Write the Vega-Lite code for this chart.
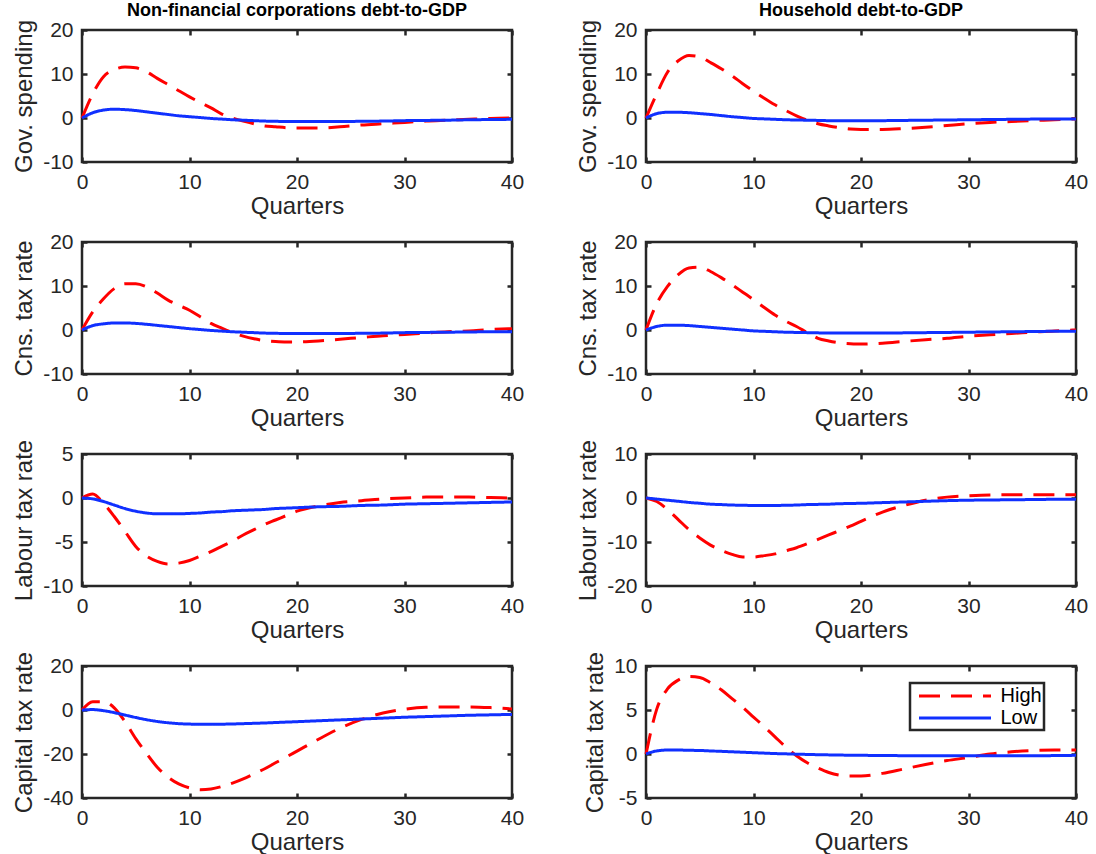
{
  "$schema": "https://vega.github.io/schema/vega-lite/v6.json",
  "background": "white",
  "padding": {"left": 11, "top": 0, "right": 10, "bottom": 0},
  "data": {"values": [
    {"p":"a","q":0,"High":0,"Low":0},{"p":"a","q":1,"High":5.5,"Low":1.2},{"p":"a","q":2,"High":9.4,"Low":1.8},{"p":"a","q":3,"High":11.0,"Low":2.0},{"p":"a","q":4,"High":11.6,"Low":1.9},{"p":"a","q":5,"High":11.4,"Low":1.7},{"p":"a","q":6,"High":10.5,"Low":1.4},{"p":"a","q":7,"High":9.0,"Low":1.1},{"p":"a","q":8,"High":7.6,"Low":0.8},{"p":"a","q":9,"High":6.2,"Low":0.5},{"p":"a","q":10,"High":4.8,"Low":0.3},{"p":"a","q":11,"High":3.5,"Low":0.1},{"p":"a","q":12,"High":2.3,"Low":-0.1},{"p":"a","q":13,"High":0.9,"Low":-0.25},{"p":"a","q":14,"High":0.0,"Low":-0.4},{"p":"a","q":15,"High":-0.7,"Low":-0.5},{"p":"a","q":16,"High":-1.3,"Low":-0.6},{"p":"a","q":17,"High":-1.8,"Low":-0.7},{"p":"a","q":18,"High":-2.0,"Low":-0.75},{"p":"a","q":19,"High":-2.2,"Low":-0.8},{"p":"a","q":20,"High":-2.3,"Low":-0.8},{"p":"a","q":22,"High":-2.3,"Low":-0.8},{"p":"a","q":24,"High":-2.0,"Low":-0.8},{"p":"a","q":26,"High":-1.6,"Low":-0.75},{"p":"a","q":28,"High":-1.3,"Low":-0.7},{"p":"a","q":30,"High":-1.0,"Low":-0.6},{"p":"a","q":32,"High":-0.7,"Low":-0.55},{"p":"a","q":34,"High":-0.5,"Low":-0.5},{"p":"a","q":36,"High":-0.3,"Low":-0.4},{"p":"a","q":38,"High":-0.1,"Low":-0.35},{"p":"a","q":40,"High":0.0,"Low":-0.3},
    {"p":"b","q":0,"High":0,"Low":0},{"p":"b","q":1,"High":5.5,"Low":1.0},{"p":"b","q":2,"High":10.4,"Low":1.3},{"p":"b","q":3,"High":13.0,"Low":1.3},{"p":"b","q":4,"High":14.2,"Low":1.2},{"p":"b","q":5,"High":13.9,"Low":1.0},{"p":"b","q":6,"High":12.6,"Low":0.8},{"p":"b","q":7,"High":11.2,"Low":0.55},{"p":"b","q":8,"High":9.6,"Low":0.3},{"p":"b","q":9,"High":7.8,"Low":0.1},{"p":"b","q":10,"High":6.1,"Low":-0.1},{"p":"b","q":11,"High":4.5,"Low":-0.2},{"p":"b","q":12,"High":3.0,"Low":-0.3},{"p":"b","q":13,"High":1.7,"Low":-0.4},{"p":"b","q":14,"High":0.5,"Low":-0.45},{"p":"b","q":15,"High":-0.5,"Low":-0.5},{"p":"b","q":16,"High":-1.3,"Low":-0.55},{"p":"b","q":17,"High":-1.8,"Low":-0.6},{"p":"b","q":18,"High":-2.2,"Low":-0.6},{"p":"b","q":19,"High":-2.5,"Low":-0.6},{"p":"b","q":20,"High":-2.6,"Low":-0.6},{"p":"b","q":22,"High":-2.6,"Low":-0.6},{"p":"b","q":24,"High":-2.4,"Low":-0.55},{"p":"b","q":26,"High":-2.1,"Low":-0.5},{"p":"b","q":28,"High":-1.7,"Low":-0.45},{"p":"b","q":30,"High":-1.3,"Low":-0.4},{"p":"b","q":32,"High":-1.0,"Low":-0.35},{"p":"b","q":34,"High":-0.8,"Low":-0.3},{"p":"b","q":36,"High":-0.6,"Low":-0.25},{"p":"b","q":38,"High":-0.4,"Low":-0.2},{"p":"b","q":40,"High":-0.2,"Low":-0.2},
    {"p":"c","q":0,"High":0,"Low":0},{"p":"c","q":1,"High":4.1,"Low":1.0},{"p":"c","q":2,"High":7.1,"Low":1.4},{"p":"c","q":3,"High":9.4,"Low":1.6},{"p":"c","q":4,"High":10.5,"Low":1.6},{"p":"c","q":5,"High":10.5,"Low":1.5},{"p":"c","q":6,"High":9.8,"Low":1.3},{"p":"c","q":7,"High":8.4,"Low":1.05},{"p":"c","q":8,"High":6.8,"Low":0.8},{"p":"c","q":9,"High":5.6,"Low":0.55},{"p":"c","q":10,"High":4.5,"Low":0.3},{"p":"c","q":11,"High":3.0,"Low":0.1},{"p":"c","q":12,"High":1.5,"Low":-0.1},{"p":"c","q":13,"High":0.4,"Low":-0.25},{"p":"c","q":14,"High":-0.6,"Low":-0.4},{"p":"c","q":15,"High":-1.4,"Low":-0.5},{"p":"c","q":16,"High":-2.0,"Low":-0.6},{"p":"c","q":17,"High":-2.4,"Low":-0.7},{"p":"c","q":18,"High":-2.6,"Low":-0.75},{"p":"c","q":19,"High":-2.7,"Low":-0.8},{"p":"c","q":20,"High":-2.7,"Low":-0.8},{"p":"c","q":22,"High":-2.5,"Low":-0.8},{"p":"c","q":24,"High":-2.1,"Low":-0.8},{"p":"c","q":26,"High":-1.7,"Low":-0.75},{"p":"c","q":28,"High":-1.3,"Low":-0.7},{"p":"c","q":30,"High":-1.0,"Low":-0.6},{"p":"c","q":32,"High":-0.7,"Low":-0.55},{"p":"c","q":34,"High":-0.4,"Low":-0.5},{"p":"c","q":36,"High":-0.2,"Low":-0.45},{"p":"c","q":38,"High":0.1,"Low":-0.4},{"p":"c","q":40,"High":0.3,"Low":-0.4},
    {"p":"d","q":0,"High":0,"Low":0},{"p":"d","q":1,"High":6.0,"Low":0.8},{"p":"d","q":2,"High":9.9,"Low":1.1},{"p":"d","q":3,"High":12.6,"Low":1.1},{"p":"d","q":4,"High":14.1,"Low":1.0},{"p":"d","q":5,"High":14.3,"Low":0.8},{"p":"d","q":6,"High":13.3,"Low":0.6},{"p":"d","q":7,"High":11.9,"Low":0.4},{"p":"d","q":8,"High":10.3,"Low":0.2},{"p":"d","q":9,"High":8.6,"Low":0.0},{"p":"d","q":10,"High":6.9,"Low":-0.2},{"p":"d","q":11,"High":5.1,"Low":-0.3},{"p":"d","q":12,"High":3.4,"Low":-0.4},{"p":"d","q":13,"High":2.0,"Low":-0.5},{"p":"d","q":14,"High":0.8,"Low":-0.55},{"p":"d","q":15,"High":-0.6,"Low":-0.6},{"p":"d","q":16,"High":-1.9,"Low":-0.65},{"p":"d","q":17,"High":-2.5,"Low":-0.7},{"p":"d","q":18,"High":-2.9,"Low":-0.7},{"p":"d","q":19,"High":-3.1,"Low":-0.7},{"p":"d","q":20,"High":-3.2,"Low":-0.7},{"p":"d","q":22,"High":-3.0,"Low":-0.7},{"p":"d","q":24,"High":-2.6,"Low":-0.65},{"p":"d","q":26,"High":-2.2,"Low":-0.6},{"p":"d","q":28,"High":-1.9,"Low":-0.55},{"p":"d","q":30,"High":-1.4,"Low":-0.5},{"p":"d","q":32,"High":-1.1,"Low":-0.45},{"p":"d","q":34,"High":-0.8,"Low":-0.4},{"p":"d","q":36,"High":-0.5,"Low":-0.35},{"p":"d","q":38,"High":-0.2,"Low":-0.3},{"p":"d","q":40,"High":0.0,"Low":-0.3},
    {"p":"e","q":0,"High":0,"Low":0},{"p":"e","q":1,"High":0.45,"Low":-0.1},{"p":"e","q":2,"High":-0.6,"Low":-0.4},{"p":"e","q":3,"High":-2.1,"Low":-0.8},{"p":"e","q":4,"High":-3.8,"Low":-1.2},{"p":"e","q":5,"High":-5.5,"Low":-1.5},{"p":"e","q":6,"High":-6.6,"Low":-1.7},{"p":"e","q":7,"High":-7.2,"Low":-1.8},{"p":"e","q":8,"High":-7.5,"Low":-1.8},{"p":"e","q":9,"High":-7.4,"Low":-1.8},{"p":"e","q":10,"High":-7.1,"Low":-1.75},{"p":"e","q":11,"High":-6.6,"Low":-1.7},{"p":"e","q":12,"High":-6.1,"Low":-1.6},{"p":"e","q":13,"High":-5.5,"Low":-1.55},{"p":"e","q":14,"High":-4.9,"Low":-1.45},{"p":"e","q":15,"High":-4.2,"Low":-1.4},{"p":"e","q":16,"High":-3.6,"Low":-1.35},{"p":"e","q":17,"High":-3.0,"Low":-1.3},{"p":"e","q":18,"High":-2.5,"Low":-1.2},{"p":"e","q":19,"High":-2.0,"Low":-1.15},{"p":"e","q":20,"High":-1.5,"Low":-1.1},{"p":"e","q":22,"High":-0.9,"Low":-1.0},{"p":"e","q":24,"High":-0.5,"Low":-0.95},{"p":"e","q":26,"High":-0.3,"Low":-0.85},{"p":"e","q":28,"High":-0.1,"Low":-0.8},{"p":"e","q":30,"High":0.0,"Low":-0.7},{"p":"e","q":32,"High":0.1,"Low":-0.65},{"p":"e","q":34,"High":0.1,"Low":-0.6},{"p":"e","q":36,"High":0.1,"Low":-0.55},{"p":"e","q":38,"High":0.05,"Low":-0.5},{"p":"e","q":40,"High":0.0,"Low":-0.45},
    {"p":"f","q":0,"High":0,"Low":0},{"p":"f","q":1,"High":-0.8,"Low":-0.25},{"p":"f","q":2,"High":-2.6,"Low":-0.5},{"p":"f","q":3,"High":-4.9,"Low":-0.75},{"p":"f","q":4,"High":-7.2,"Low":-1.0},{"p":"f","q":5,"High":-9.1,"Low":-1.2},{"p":"f","q":6,"High":-10.7,"Low":-1.4},{"p":"f","q":7,"High":-11.9,"Low":-1.5},{"p":"f","q":8,"High":-12.8,"Low":-1.6},{"p":"f","q":9,"High":-13.4,"Low":-1.65},{"p":"f","q":10,"High":-13.4,"Low":-1.7},{"p":"f","q":11,"High":-13.1,"Low":-1.7},{"p":"f","q":12,"High":-12.7,"Low":-1.7},{"p":"f","q":13,"High":-12.0,"Low":-1.65},{"p":"f","q":14,"High":-11.3,"Low":-1.6},{"p":"f","q":15,"High":-10.4,"Low":-1.5},{"p":"f","q":16,"High":-9.4,"Low":-1.45},{"p":"f","q":17,"High":-8.4,"Low":-1.4},{"p":"f","q":18,"High":-7.4,"Low":-1.3},{"p":"f","q":19,"High":-6.4,"Low":-1.25},{"p":"f","q":20,"High":-5.3,"Low":-1.2},{"p":"f","q":22,"High":-3.2,"Low":-1.05},{"p":"f","q":24,"High":-1.7,"Low":-0.9},{"p":"f","q":26,"High":-0.5,"Low":-0.75},{"p":"f","q":28,"High":0.2,"Low":-0.6},{"p":"f","q":30,"High":0.5,"Low":-0.5},{"p":"f","q":32,"High":0.7,"Low":-0.45},{"p":"f","q":34,"High":0.75,"Low":-0.4},{"p":"f","q":36,"High":0.75,"Low":-0.35},{"p":"f","q":38,"High":0.75,"Low":-0.3},{"p":"f","q":40,"High":0.75,"Low":-0.3},
    {"p":"g","q":0,"High":0,"Low":0},{"p":"g","q":1,"High":3.8,"Low":0.2},{"p":"g","q":2,"High":3.8,"Low":-0.3},{"p":"g","q":3,"High":1.0,"Low":-1.2},{"p":"g","q":4,"High":-5.3,"Low":-2.3},{"p":"g","q":5,"High":-13.0,"Low":-3.4},{"p":"g","q":6,"High":-19.8,"Low":-4.4},{"p":"g","q":7,"High":-26.0,"Low":-5.2},{"p":"g","q":8,"High":-30.5,"Low":-5.8},{"p":"g","q":9,"High":-33.6,"Low":-6.2},{"p":"g","q":10,"High":-35.4,"Low":-6.4},{"p":"g","q":11,"High":-36.2,"Low":-6.5},{"p":"g","q":12,"High":-35.9,"Low":-6.5},{"p":"g","q":13,"High":-34.8,"Low":-6.45},{"p":"g","q":14,"High":-33.2,"Low":-6.35},{"p":"g","q":15,"High":-31.3,"Low":-6.2},{"p":"g","q":16,"High":-29.0,"Low":-6.05},{"p":"g","q":17,"High":-26.7,"Low":-5.9},{"p":"g","q":18,"High":-24.0,"Low":-5.7},{"p":"g","q":19,"High":-21.4,"Low":-5.5},{"p":"g","q":20,"High":-18.7,"Low":-5.3},{"p":"g","q":22,"High":-13.3,"Low":-4.9},{"p":"g","q":24,"High":-8.3,"Low":-4.5},{"p":"g","q":26,"High":-4.3,"Low":-4.1},{"p":"g","q":28,"High":-1.4,"Low":-3.7},{"p":"g","q":30,"High":0.3,"Low":-3.3},{"p":"g","q":32,"High":1.2,"Low":-3.0},{"p":"g","q":34,"High":1.4,"Low":-2.7},{"p":"g","q":36,"High":1.4,"Low":-2.4},{"p":"g","q":38,"High":1.1,"Low":-2.2},{"p":"g","q":40,"High":0.5,"Low":-2.0},
    {"p":"h","q":0,"High":0,"Low":0},{"p":"h","q":1,"High":5.1,"Low":0.35},{"p":"h","q":2,"High":7.4,"Low":0.45},{"p":"h","q":3,"High":8.4,"Low":0.45},{"p":"h","q":4,"High":8.8,"Low":0.42},{"p":"h","q":5,"High":8.7,"Low":0.4},{"p":"h","q":6,"High":8.1,"Low":0.35},{"p":"h","q":7,"High":7.3,"Low":0.3},{"p":"h","q":8,"High":6.3,"Low":0.25},{"p":"h","q":9,"High":5.3,"Low":0.2},{"p":"h","q":10,"High":4.2,"Low":0.15},{"p":"h","q":11,"High":3.1,"Low":0.1},{"p":"h","q":12,"High":1.95,"Low":0.05},{"p":"h","q":13,"High":0.8,"Low":0.02},{"p":"h","q":14,"High":-0.2,"Low":-0.02},{"p":"h","q":15,"High":-1.0,"Low":-0.05},{"p":"h","q":16,"High":-1.6,"Low":-0.08},{"p":"h","q":17,"High":-2.1,"Low":-0.1},{"p":"h","q":18,"High":-2.4,"Low":-0.12},{"p":"h","q":19,"High":-2.5,"Low":-0.14},{"p":"h","q":20,"High":-2.5,"Low":-0.15},{"p":"h","q":22,"High":-2.2,"Low":-0.17},{"p":"h","q":24,"High":-1.7,"Low":-0.19},{"p":"h","q":26,"High":-1.2,"Low":-0.2},{"p":"h","q":28,"High":-0.75,"Low":-0.2},{"p":"h","q":30,"High":-0.4,"Low":-0.2},{"p":"h","q":32,"High":0.0,"Low":-0.2},{"p":"h","q":34,"High":0.25,"Low":-0.2},{"p":"h","q":36,"High":0.4,"Low":-0.2},{"p":"h","q":38,"High":0.45,"Low":-0.18},{"p":"h","q":40,"High":0.45,"Low":-0.15}
  ]},
  "transform": [{"fold": ["High", "Low"], "as": ["s", "v"]}],
  "columns": 2,
  "bounds": "flush",
  "spacing": {"row": 80, "column": 134},
  "resolve": {"scale": {"color": "independent", "strokeDash": "independent"}, "legend": {"color": "independent", "strokeDash": "independent"}},
  "concat": [
    {
      "title": {"text": "Non-financial corporations debt-to-GDP"},
      "width": 430, "height": 132,
      "transform": [{"filter": "datum.p === 'a'"}],
      "layer": [
        {"mark": {"type": "line", "strokeWidth": 3, "interpolate": "monotone"},
         "encoding": {
           "x": {"field": "q", "type": "quantitative", "scale": {"domain": [0, 40], "nice": false}, "axis": {"values": [0, 10, 20, 30, 40], "title": "Quarters"}},
           "y": {"field": "v", "type": "quantitative", "scale": {"domain": [-10, 20], "nice": false}, "axis": {"values": [-10, 0, 10, 20], "title": "Gov. spending"}},
           "color": {"field": "s", "type": "nominal", "scale": {"domain": ["High", "Low"], "range": ["#ff0000", "#1030ff"]}, "legend": null},
           "strokeDash": {"field": "s", "type": "nominal", "scale": {"domain": ["High", "Low"], "range": [[21, 11], [1, 0]]}, "legend": null}
         }},
        {"mark": {"type": "line", "opacity": 0},
         "encoding": {
           "x": {"field": "q", "type": "quantitative", "axis": {"orient": "top", "values": [0, 10, 20, 30, 40], "labels": false, "title": null}},
           "y": {"field": "v", "type": "quantitative", "axis": {"orient": "right", "values": [-10, 0, 10, 20], "labels": false, "title": null}},
           "detail": {"field": "s"}
         }}
      ],
      "resolve": {"axis": {"x": "independent", "y": "independent"}}
    },
    {
      "title": {"text": "Household debt-to-GDP"},
      "width": 430, "height": 132,
      "transform": [{"filter": "datum.p === 'b'"}],
      "layer": [
        {"mark": {"type": "line", "strokeWidth": 3, "interpolate": "monotone"},
         "encoding": {
           "x": {"field": "q", "type": "quantitative", "scale": {"domain": [0, 40], "nice": false}, "axis": {"values": [0, 10, 20, 30, 40], "title": "Quarters"}},
           "y": {"field": "v", "type": "quantitative", "scale": {"domain": [-10, 20], "nice": false}, "axis": {"values": [-10, 0, 10, 20], "title": "Gov. spending"}},
           "color": {"field": "s", "type": "nominal", "scale": {"domain": ["High", "Low"], "range": ["#ff0000", "#1030ff"]}, "legend": null},
           "strokeDash": {"field": "s", "type": "nominal", "scale": {"domain": ["High", "Low"], "range": [[21, 11], [1, 0]]}, "legend": null}
         }},
        {"mark": {"type": "line", "opacity": 0},
         "encoding": {
           "x": {"field": "q", "type": "quantitative", "axis": {"orient": "top", "values": [0, 10, 20, 30, 40], "labels": false, "title": null}},
           "y": {"field": "v", "type": "quantitative", "axis": {"orient": "right", "values": [-10, 0, 10, 20], "labels": false, "title": null}},
           "detail": {"field": "s"}
         }}
      ],
      "resolve": {"axis": {"x": "independent", "y": "independent"}}
    },
    {
      "width": 430, "height": 132,
      "transform": [{"filter": "datum.p === 'c'"}],
      "layer": [
        {"mark": {"type": "line", "strokeWidth": 3, "interpolate": "monotone"},
         "encoding": {
           "x": {"field": "q", "type": "quantitative", "scale": {"domain": [0, 40], "nice": false}, "axis": {"values": [0, 10, 20, 30, 40], "title": "Quarters"}},
           "y": {"field": "v", "type": "quantitative", "scale": {"domain": [-10, 20], "nice": false}, "axis": {"values": [-10, 0, 10, 20], "title": "Cns. tax rate"}},
           "color": {"field": "s", "type": "nominal", "scale": {"domain": ["High", "Low"], "range": ["#ff0000", "#1030ff"]}, "legend": null},
           "strokeDash": {"field": "s", "type": "nominal", "scale": {"domain": ["High", "Low"], "range": [[21, 11], [1, 0]]}, "legend": null}
         }},
        {"mark": {"type": "line", "opacity": 0},
         "encoding": {
           "x": {"field": "q", "type": "quantitative", "axis": {"orient": "top", "values": [0, 10, 20, 30, 40], "labels": false, "title": null}},
           "y": {"field": "v", "type": "quantitative", "axis": {"orient": "right", "values": [-10, 0, 10, 20], "labels": false, "title": null}},
           "detail": {"field": "s"}
         }}
      ],
      "resolve": {"axis": {"x": "independent", "y": "independent"}}
    },
    {
      "width": 430, "height": 132,
      "transform": [{"filter": "datum.p === 'd'"}],
      "layer": [
        {"mark": {"type": "line", "strokeWidth": 3, "interpolate": "monotone"},
         "encoding": {
           "x": {"field": "q", "type": "quantitative", "scale": {"domain": [0, 40], "nice": false}, "axis": {"values": [0, 10, 20, 30, 40], "title": "Quarters"}},
           "y": {"field": "v", "type": "quantitative", "scale": {"domain": [-10, 20], "nice": false}, "axis": {"values": [-10, 0, 10, 20], "title": "Cns. tax rate"}},
           "color": {"field": "s", "type": "nominal", "scale": {"domain": ["High", "Low"], "range": ["#ff0000", "#1030ff"]}, "legend": null},
           "strokeDash": {"field": "s", "type": "nominal", "scale": {"domain": ["High", "Low"], "range": [[21, 11], [1, 0]]}, "legend": null}
         }},
        {"mark": {"type": "line", "opacity": 0},
         "encoding": {
           "x": {"field": "q", "type": "quantitative", "axis": {"orient": "top", "values": [0, 10, 20, 30, 40], "labels": false, "title": null}},
           "y": {"field": "v", "type": "quantitative", "axis": {"orient": "right", "values": [-10, 0, 10, 20], "labels": false, "title": null}},
           "detail": {"field": "s"}
         }}
      ],
      "resolve": {"axis": {"x": "independent", "y": "independent"}}
    },
    {
      "width": 430, "height": 132,
      "transform": [{"filter": "datum.p === 'e'"}],
      "layer": [
        {"mark": {"type": "line", "strokeWidth": 3, "interpolate": "monotone"},
         "encoding": {
           "x": {"field": "q", "type": "quantitative", "scale": {"domain": [0, 40], "nice": false}, "axis": {"values": [0, 10, 20, 30, 40], "title": "Quarters"}},
           "y": {"field": "v", "type": "quantitative", "scale": {"domain": [-10, 5], "nice": false}, "axis": {"values": [-10, -5, 0, 5], "title": "Labour tax rate"}},
           "color": {"field": "s", "type": "nominal", "scale": {"domain": ["High", "Low"], "range": ["#ff0000", "#1030ff"]}, "legend": null},
           "strokeDash": {"field": "s", "type": "nominal", "scale": {"domain": ["High", "Low"], "range": [[21, 11], [1, 0]]}, "legend": null}
         }},
        {"mark": {"type": "line", "opacity": 0},
         "encoding": {
           "x": {"field": "q", "type": "quantitative", "axis": {"orient": "top", "values": [0, 10, 20, 30, 40], "labels": false, "title": null}},
           "y": {"field": "v", "type": "quantitative", "axis": {"orient": "right", "values": [-10, -5, 0, 5], "labels": false, "title": null}},
           "detail": {"field": "s"}
         }}
      ],
      "resolve": {"axis": {"x": "independent", "y": "independent"}}
    },
    {
      "width": 430, "height": 132,
      "transform": [{"filter": "datum.p === 'f'"}],
      "layer": [
        {"mark": {"type": "line", "strokeWidth": 3, "interpolate": "monotone"},
         "encoding": {
           "x": {"field": "q", "type": "quantitative", "scale": {"domain": [0, 40], "nice": false}, "axis": {"values": [0, 10, 20, 30, 40], "title": "Quarters"}},
           "y": {"field": "v", "type": "quantitative", "scale": {"domain": [-20, 10], "nice": false}, "axis": {"values": [-20, -10, 0, 10], "title": "Labour tax rate"}},
           "color": {"field": "s", "type": "nominal", "scale": {"domain": ["High", "Low"], "range": ["#ff0000", "#1030ff"]}, "legend": null},
           "strokeDash": {"field": "s", "type": "nominal", "scale": {"domain": ["High", "Low"], "range": [[21, 11], [1, 0]]}, "legend": null}
         }},
        {"mark": {"type": "line", "opacity": 0},
         "encoding": {
           "x": {"field": "q", "type": "quantitative", "axis": {"orient": "top", "values": [0, 10, 20, 30, 40], "labels": false, "title": null}},
           "y": {"field": "v", "type": "quantitative", "axis": {"orient": "right", "values": [-20, -10, 0, 10], "labels": false, "title": null}},
           "detail": {"field": "s"}
         }}
      ],
      "resolve": {"axis": {"x": "independent", "y": "independent"}}
    },
    {
      "width": 430, "height": 132,
      "transform": [{"filter": "datum.p === 'g'"}],
      "layer": [
        {"mark": {"type": "line", "strokeWidth": 3, "interpolate": "monotone"},
         "encoding": {
           "x": {"field": "q", "type": "quantitative", "scale": {"domain": [0, 40], "nice": false}, "axis": {"values": [0, 10, 20, 30, 40], "title": "Quarters"}},
           "y": {"field": "v", "type": "quantitative", "scale": {"domain": [-40, 20], "nice": false}, "axis": {"values": [-40, -20, 0, 20], "title": "Capital tax rate"}},
           "color": {"field": "s", "type": "nominal", "scale": {"domain": ["High", "Low"], "range": ["#ff0000", "#1030ff"]}, "legend": null},
           "strokeDash": {"field": "s", "type": "nominal", "scale": {"domain": ["High", "Low"], "range": [[21, 11], [1, 0]]}, "legend": null}
         }},
        {"mark": {"type": "line", "opacity": 0},
         "encoding": {
           "x": {"field": "q", "type": "quantitative", "axis": {"orient": "top", "values": [0, 10, 20, 30, 40], "labels": false, "title": null}},
           "y": {"field": "v", "type": "quantitative", "axis": {"orient": "right", "values": [-40, -20, 0, 20], "labels": false, "title": null}},
           "detail": {"field": "s"}
         }}
      ],
      "resolve": {"axis": {"x": "independent", "y": "independent"}}
    },
    {
      "width": 430, "height": 132,
      "transform": [{"filter": "datum.p === 'h'"}],
      "layer": [
        {"mark": {"type": "line", "strokeWidth": 3, "interpolate": "monotone"},
         "encoding": {
           "x": {"field": "q", "type": "quantitative", "scale": {"domain": [0, 40], "nice": false}, "axis": {"values": [0, 10, 20, 30, 40], "title": "Quarters"}},
           "y": {"field": "v", "type": "quantitative", "scale": {"domain": [-5, 10], "nice": false}, "axis": {"values": [-5, 0, 5, 10], "title": "Capital tax rate"}},
           "color": {"field": "s", "type": "nominal", "scale": {"domain": ["High", "Low"], "range": ["#ff0000", "#1030ff"]},
             "legend": {"orient": "none", "legendX": 264, "legendY": 17, "title": null, "symbolType": "M-0.4,0H6.8", "symbolSize": 400, "symbolStrokeWidth": 3, "labelFont": "Liberation Sans", "labelFontSize": 20, "labelColor": "#000000", "strokeColor": "#262626", "fillColor": "white", "padding": 1.5, "rowPadding": 0, "labelOffset": 66}},
           "strokeDash": {"field": "s", "type": "nominal", "scale": {"domain": ["High", "Low"], "range": [[21, 11], [1, 0]]},
             "legend": {"orient": "none", "legendX": 264, "legendY": 17, "title": null, "symbolType": "M-0.4,0H6.8", "symbolSize": 400, "symbolStrokeWidth": 3, "labelFont": "Liberation Sans", "labelFontSize": 20, "labelColor": "#000000", "strokeColor": "#262626", "fillColor": "white", "padding": 1.5, "rowPadding": 0, "labelOffset": 66}}
         }},
        {"mark": {"type": "line", "opacity": 0},
         "encoding": {
           "x": {"field": "q", "type": "quantitative", "axis": {"orient": "top", "values": [0, 10, 20, 30, 40], "labels": false, "title": null}},
           "y": {"field": "v", "type": "quantitative", "axis": {"orient": "right", "values": [-5, 0, 5, 10], "labels": false, "title": null}},
           "detail": {"field": "s"}
         }}
      ],
      "resolve": {"axis": {"x": "independent", "y": "independent"}}
    }
  ],
  "config": {
    "locale": {"number": {"decimal": ".", "thousands": ",", "grouping": [3], "currency": ["$", ""], "minus": "-"}},
    "view": {"stroke": "#262626", "strokeWidth": 2.5},
    "axis": {"domain": false, "grid": false, "zindex": 1, "tickSize": -5, "tickColor": "#262626", "tickWidth": 2.5, "labelFont": "Liberation Sans", "labelFontSize": 21, "labelColor": "#262626", "labelPadding": 14, "labelFlush": false, "labelOverlap": false, "labelBound": false, "titleFont": "Liberation Sans", "titleFontSize": 24, "titleFontWeight": "normal", "titleColor": "#262626"},
    "axisX": {"titlePadding": 2},
    "axisY": {"titlePadding": 6},
    "title": {"font": "Liberation Sans", "fontSize": 18, "fontWeight": "bold", "color": "#000000", "offset": -1, "anchor": "middle"},
    "legend": {"strokeWidth": 2.5}
  }
}
